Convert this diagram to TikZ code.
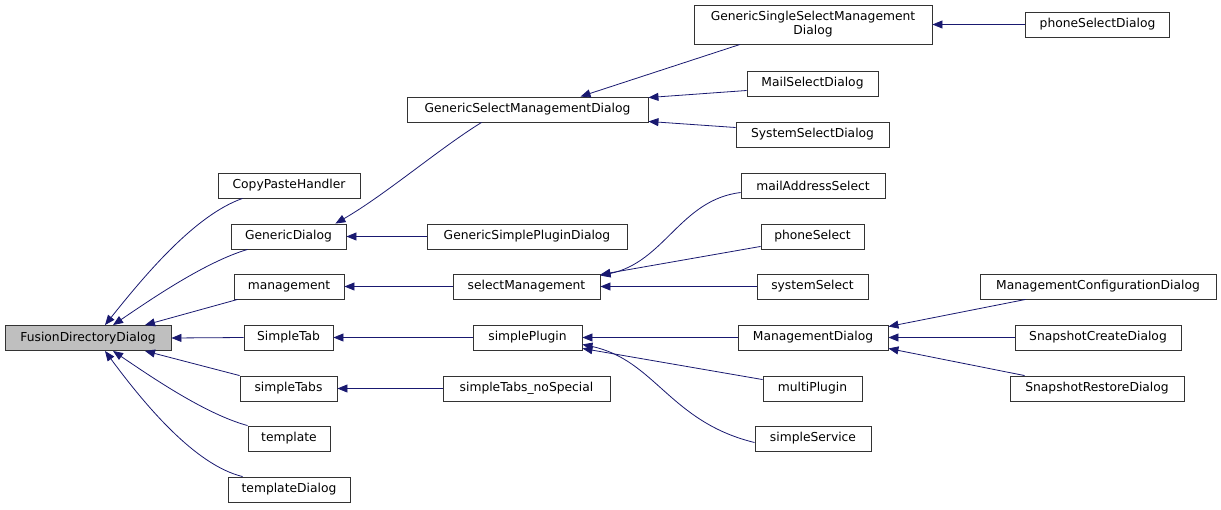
\documentclass[tikz,border=0pt]{standalone}
\usepackage{fontspec}
\setmainfont{DejaVu Sans}
\usetikzlibrary{arrows.meta}
\definecolor{edgeblue}{HTML}{191970}
\definecolor{rootgray}{HTML}{BFBFBF}
\begin{document}
\begin{tikzpicture}[x=1pt, y=-1pt,
    cls/.style={draw=black!80, line width=0.9pt, shape=rectangle, minimum height=25pt, inner sep=1pt, font=\fontsize{12.3}{14}\selectfont, align=center},
    edge/.style={draw=edgeblue, line width=0.8pt, {Triangle[length=10pt, width=8pt]}-}]
    \useasboundingbox (0,0) rectangle (1221,509);

    \node[cls, fill=rootgray, minimum width=166pt] at (88,338) (0) {FusionDirectoryDialog};
    \node[cls, minimum width=142pt] at (289,185.5) (1) {CopyPasteHandler};
    \node[cls, minimum width=115pt] at (288.5,236.5) (2) {GenericDialog};
    \node[cls, minimum width=110pt] at (289,286.5) (3) {management};
    \node[cls, minimum width=89pt] at (288.5,337.5) (4) {SimpleTab};
    \node[cls, minimum width=97pt] at (288.5,388.5) (5) {simpleTabs};
    \node[cls, minimum width=82pt] at (289,438.5) (6) {template};
    \node[cls, minimum width=122pt] at (289,489.5) (7) {templateDialog};

    \node[cls, minimum width=241pt] at (527.5,109.5) (8) {GenericSelectManagementDialog};
    \node[cls, minimum width=200pt] at (527,236.5) (9) {GenericSimplePluginDialog};
    \node[cls, minimum width=147pt] at (526.5,286.5) (10) {selectManagement};
    \node[cls, minimum width=109pt] at (527.5,337.5) (11) {simplePlugin};
    \node[cls, minimum width=167pt] at (526.5,388.5) (12) {simpleTabs\_noSpecial};

    \node[cls, minimum width=238pt, minimum height=39pt, inner sep=0pt] at (813,24.5) (13) {GenericSingleSelectManagement\\Dialog};
    \node[cls, minimum width=131pt] at (812.5,83.5) (14) {MailSelectDialog};
    \node[cls, minimum width=153pt] at (812.5,134.5) (15) {SystemSelectDialog};
    \node[cls, minimum width=144pt] at (813,185.5) (16) {mailAddressSelect};
    \node[cls, minimum width=103pt] at (812.5,236.5) (17) {phoneSelect};
    \node[cls, minimum width=111pt] at (812.5,286.5) (18) {systemSelect};
    \node[cls, minimum width=150pt] at (813,337.5) (19) {ManagementDialog};
    \node[cls, minimum width=99pt] at (812.5,388.5) (20) {multiPlugin};
    \node[cls, minimum width=116pt] at (813,438.5) (21) {simpleService};

    \node[cls, minimum width=144pt] at (1097.5,24.5) (22) {phoneSelectDialog};
    \node[cls, minimum width=236pt] at (1098,286.5) (23) {ManagementConfigurationDialog};
    \node[cls, minimum width=166pt] at (1098,337.5) (24) {SnapshotCreateDialog};
    \node[cls, minimum width=174pt] at (1097,388.5) (25) {SnapshotRestoreDialog};

    % first level
    \draw[edge] ([xshift=17pt]0.north) .. controls (145,275) and (195,215) .. ([xshift=25pt]1.south west);
    \draw[edge] ([xshift=25pt]0.north) .. controls (150,300) and (205,262) .. ([xshift=17pt]2.south west);
    \draw[edge] ([xshift=57pt]0.north) -- ([xshift=4pt]3.south west);
    \draw[edge] (0.east) -- (4.west);
    \draw[edge] ([xshift=57pt]0.south) -- ([xshift=0pt]5.north west);
    \draw[edge] ([xshift=25pt]0.south) .. controls (150,376) and (205,414) .. ([xshift=0pt]6.north west);
    \draw[edge] ([xshift=17pt]0.south) .. controls (145,405) and (195,465) .. ([xshift=15pt]7.north west);

    % second level
    \draw[edge] ([xshift=-11pt]2.north east) .. controls (385,195) and (440,148) .. ([xshift=75pt]8.south west);
    \draw[edge] (2.east) -- (9.west);
    \draw[edge] (3.east) -- (10.west);
    \draw[edge] (4.east) -- (11.west);
    \draw[edge] (5.east) -- (12.west);

    % third level
    \draw[edge] ([xshift=53pt]8.north) -- ([xshift=-73pt]13.south);
    \draw[edge] ([yshift=-1pt]8.north east) -- ([yshift=-7pt]14.west);
    \draw[edge] ([yshift=1pt]8.south east) -- ([yshift=7pt]15.west);
    \draw[edge] ([yshift=-2pt]10.north east) .. controls (665,262) and (680,200) .. ([yshift=-7pt]16.west);
    \draw[edge] ([yshift=-1pt]10.north east) -- ([yshift=3pt]17.south west);
    \draw[edge] (10.east) -- (18.west);
    \draw[edge] (11.east) -- (19.west);
    \draw[edge] ([yshift=2pt]11.south east) -- ([yshift=-4pt]20.north west);
    \draw[edge] ([yshift=6pt]11.south east) .. controls (655,360) and (670,422) .. ([yshift=-4pt]21.west);

    % fourth level
    \draw[edge] (13.east) -- (22.west);
    \draw[edge] ([yshift=-2pt]19.north east) -- ([xshift=46pt]23.south west);
    \draw[edge] (19.east) -- (24.west);
    \draw[edge] ([yshift=2pt]19.south east) -- ([xshift=15pt]25.north west);
\end{tikzpicture}
\end{document}
